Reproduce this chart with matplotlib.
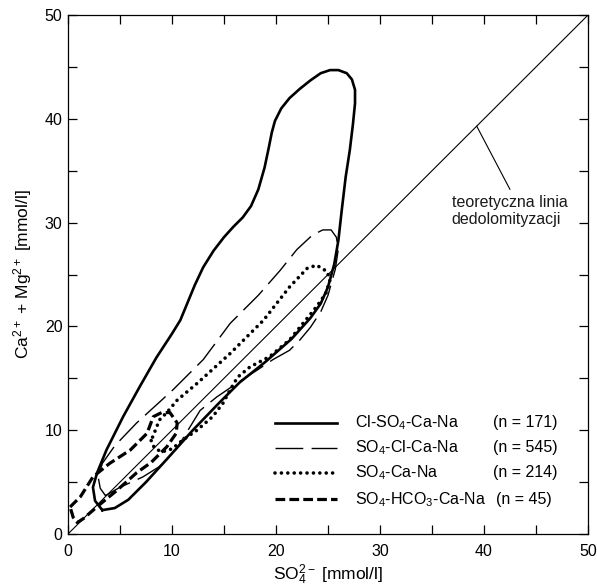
import matplotlib
matplotlib.use("Agg")
import matplotlib.pyplot as plt
from matplotlib.ticker import MultipleLocator

plt.rcParams["font.family"] = ["Liberation Sans", "DejaVu Sans"]
plt.rcParams["mathtext.fontset"] = "custom"
plt.rcParams["mathtext.rm"] = "Liberation Sans"
plt.rcParams["mathtext.it"] = "Liberation Sans:italic"
plt.rcParams["lines.scale_dashes"] = False

# contours (SO4 [mmol/l], Ca+Mg [mmol/l])
cl_so4_x = [3.3, 4.5, 5.8, 7.5, 9.5, 12.0, 14.5, 16.5, 19.0, 21.5, 23.3, 24.3, 25.0, 25.6,
            26.0, 26.3, 26.7, 27.1, 27.4, 27.6, 27.6, 27.3, 26.8, 26.0, 25.2, 24.3, 23.3,
            22.3, 21.3, 20.5, 19.9, 19.6, 19.3, 18.9, 18.3, 17.6, 16.8, 15.9, 15.0, 14.0,
            13.0, 12.2, 11.5, 10.8, 10.0, 8.5, 6.9, 5.3, 3.7, 2.8, 2.4, 2.6, 3.3]
cl_so4_y = [2.3, 2.5, 3.3, 5.0, 7.2, 10.0, 12.6, 14.6, 16.6, 18.8, 20.8, 22.2, 23.8, 26.0,
            28.3, 31.0, 34.4, 37.0, 39.5, 41.5, 42.8, 43.8, 44.4, 44.7, 44.7, 44.4, 43.7,
            42.9, 42.0, 41.0, 39.8, 38.7, 37.2, 35.3, 33.2, 31.6, 30.5, 29.6, 28.6, 27.3,
            25.7, 24.0, 22.3, 20.6, 19.3, 17.0, 14.2, 11.3, 8.1, 5.9, 4.5, 3.2, 2.3]

so4_cl_x = [3.6, 5.0, 7.2, 8.8, 10.5, 12.7, 14.3, 16.5, 18.2, 19.7, 21.3, 22.3, 23.3, 24.3,
            25.0, 25.7, 26.0, 25.8, 25.3, 24.5, 23.5, 22.0, 20.4, 18.3, 15.6, 13.0, 10.1,
            6.6, 4.5, 3.3, 2.9, 3.1, 3.6]
so4_cl_y = [3.7, 4.5, 5.5, 6.5, 8.3, 11.9, 13.2, 14.7, 15.8, 16.8, 17.7, 18.7, 19.9, 21.4,
            23.0, 25.5, 27.5, 28.6, 29.3, 29.3, 28.8, 27.4, 25.4, 23.0, 20.3, 16.8, 13.9,
            10.7, 8.5, 6.8, 5.5, 4.4, 3.7]

so4_ca_x = [8.0, 8.3, 9.0, 10.0, 11.1, 12.4, 13.9, 14.9, 15.6, 16.3, 17.5, 19.4, 21.3, 22.6,
            23.9, 24.8, 25.2, 24.9, 23.9, 23.0, 21.3, 18.8, 15.6, 12.4, 10.5, 9.5, 8.8, 8.0]
so4_ca_y = [9.0, 8.3, 7.9, 8.2, 9.1, 10.0, 11.3, 12.6, 13.9, 15.1, 16.1, 17.1, 18.7, 20.3,
            21.9, 23.2, 24.5, 25.3, 25.9, 25.6, 23.8, 20.6, 17.4, 14.5, 12.9, 11.7, 11.0, 9.0]

so4_hco3_x = [0.2, 1.2, 2.4, 4.0, 6.0, 7.6, 8.2, 9.0, 9.8, 10.5, 10.4, 9.5, 8.0, 6.6, 4.7,
              3.0, 1.5, 0.9, 0.5, 0.2]
so4_hco3_y = [2.6, 3.6, 5.5, 6.8, 8.1, 9.7, 11.3, 11.7, 11.7, 10.7, 9.7, 8.4, 6.9, 5.9, 4.2,
              2.8, 1.5, 1.1, 1.6, 2.6]

diag = [0, 50]

labels = ["Cl-SO$_4$-Ca-Na", "SO$_4$-Cl-Ca-Na", "SO$_4$-Ca-Na", "SO$_4$-HCO$_3$-Ca-Na"]
counts = ["(n = 171)", "(n = 545)", "(n = 214)", "(n = 45)"]

styles = [
    dict(color="black", lw=1.9, linestyle="-"),
    dict(color="black", lw=1.0, linestyle=(0, (20, 6))),
    dict(color="black", lw=2.6, linestyle=(0, (0.01, 4.6)), dash_capstyle="round"),
    dict(color="black", lw=2.3, linestyle=(0, (7, 3))),
]
series = [(cl_so4_x, cl_so4_y), (so4_cl_x, so4_cl_y), (so4_ca_x, so4_ca_y),
          (so4_hco3_x, so4_hco3_y)]

fig = plt.figure(figsize=(5.97, 5.87), dpi=100)
ax = fig.add_axes([0.1139, 0.0903, 0.871, 0.884])

ax.plot(diag, diag, color="black", lw=0.8)
for (xs, ys), st in zip(series, styles):
    ax.plot(xs, ys, solid_joinstyle="round", **st)

ax.set_xlim(0, 50)
ax.set_ylim(0, 50)
ax.xaxis.set_major_locator(MultipleLocator(10))
ax.yaxis.set_major_locator(MultipleLocator(10))
ax.xaxis.set_minor_locator(MultipleLocator(5))
ax.yaxis.set_minor_locator(MultipleLocator(5))
ax.tick_params(which="both", direction="in", top=True, right=True, length=6.5,
               width=0.9, labelsize=11.5)
ax.tick_params(axis="x", pad=7)
ax.tick_params(axis="y", pad=4)
for sp in ax.spines.values():
    sp.set_linewidth(0.9)

ax.set_xlabel("SO$_4^{2-}$ [mmol/l]", fontsize=12.5)
ax.set_ylabel("Ca$^{2+}$ + Mg$^{2+}$ [mmol/l]", fontsize=12.5)
ax.xaxis.set_label_coords(0.5, -0.056)
ax.yaxis.set_label_coords(-0.066, 0.5)

ax.annotate("", xy=(39.3, 39.3), xytext=(42.5, 33.2),
            arrowprops=dict(arrowstyle="-", lw=0.8, color="black", shrinkA=0, shrinkB=0))
ax.text(36.9, 31.1, "teoretyczna linia\ndedolomityzacji", ha="left", va="center",
        fontsize=11.5, linespacing=1.2, color="#1a1a1a")

# hand-made legend, lower right
rows_y = [0.214, 0.166, 0.118, 0.067]
for lab, cnt, st, yy in zip(labels, counts, styles, rows_y):
    ax.plot([0.398, 0.517], [yy, yy], transform=ax.transAxes, **st)
    ax.text(0.552, yy, lab, transform=ax.transAxes, ha="left", va="center", fontsize=11.5)
    cx = 0.817 if cnt != "(n = 45)" else 0.823
    ax.text(cx, yy, cnt, transform=ax.transAxes, ha="left", va="center", fontsize=11.5)

fig.savefig("out.png", dpi=100)
